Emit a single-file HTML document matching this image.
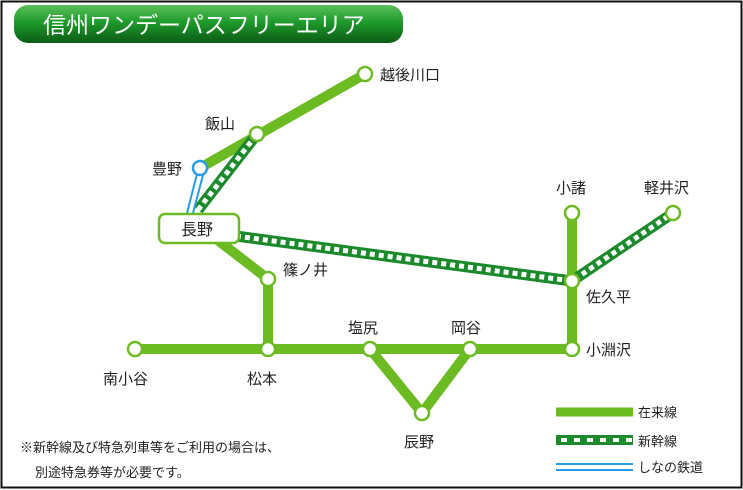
<!DOCTYPE html>
<html><head><meta charset="utf-8"><style>
html,body{margin:0;padding:0;background:#fff}
svg{display:block}
text{font-family:"Liberation Sans","Noto Sans CJK JP",sans-serif;fill:#222}
</style></head><body>
<svg width="743" height="490" viewBox="0 0 743 490" xmlns="http://www.w3.org/2000/svg">
<defs>
<linearGradient id="tb" x1="0" y1="0" x2="0" y2="1">
<stop offset="0" stop-color="#5cc05a"/><stop offset="0.45" stop-color="#1e9a2c"/><stop offset="1" stop-color="#0b5c14"/>
</linearGradient>
</defs>
<rect x="1.5" y="1.5" width="740" height="486" fill="#fff" stroke="#111" stroke-width="2"/>
<rect x="14" y="5" width="389" height="38" rx="14" fill="url(#tb)"/>
<text x="43" y="33" font-size="23" style="fill:#fff">信州ワンデーパスフリーエリア</text>

<g stroke="#6cbb22" stroke-width="10" fill="none" stroke-linecap="butt">
<line x1="200" y1="168" x2="365" y2="74"/>
<polyline points="215,238 268,279 268,349"/>
<line x1="135" y1="349" x2="572" y2="349"/>
<polyline points="370,349 422,413 470,349"/>
<line x1="572" y1="213" x2="572" y2="349"/>
</g>
<g fill="none">
<line x1="198" y1="210" x2="257" y2="134" stroke="#1b8a2a" stroke-width="11"/>
<line x1="198" y1="210" x2="257" y2="134" stroke="#fff" stroke-width="5" stroke-dasharray="5 4"/>
<polyline points="236,236 572,281 673,213" stroke="#1b8a2a" stroke-width="11"/>
<polyline points="236,236 572,281 673,213" stroke="#fff" stroke-width="5" stroke-dasharray="5 4"/>
<line x1="197" y1="174" x2="187" y2="213" stroke="#2a9be8" stroke-width="2"/>
<line x1="203" y1="175" x2="193" y2="213" stroke="#2a9be8" stroke-width="2"/>
</g>
<g fill="#fff" stroke="#6cbb22" stroke-width="2.5">
<circle cx="365" cy="74" r="7"/>
<circle cx="257" cy="134" r="7"/>
<circle cx="268" cy="279" r="7"/>
<circle cx="135" cy="349" r="7"/>
<circle cx="268" cy="349" r="7"/>
<circle cx="370" cy="349" r="7"/>
<circle cx="470" cy="349" r="7"/>
<circle cx="422" cy="413" r="7"/>
<circle cx="572" cy="349" r="7"/>
<circle cx="572" cy="213" r="7"/>
<circle cx="572" cy="281" r="7"/>
<circle cx="673" cy="213" r="7"/>
<circle cx="200" cy="168" r="7" stroke="#2a9be8"/>
<rect x="159" y="214" width="80" height="29" rx="6"/>
</g>
<g font-size="15">
<text x="181" y="235" font-size="16">長野</text>
<text x="380" y="80">越後川口</text>
<text x="205" y="129">飯山</text>
<text x="152" y="174">豊野</text>
<text x="283" y="275">篠ノ井</text>
<text x="103" y="384">南小谷</text>
<text x="247" y="384">松本</text>
<text x="348" y="333">塩尻</text>
<text x="451" y="333">岡谷</text>
<text x="404" y="447">辰野</text>
<text x="586" y="355">小淵沢</text>
<text x="586" y="302">佐久平</text>
<text x="556" y="193">小諸</text>
<text x="644" y="193">軽井沢</text>
<text x="638" y="417" font-size="13">在来線</text>
<text x="638" y="446" font-size="13">新幹線</text>
<text x="638" y="472" font-size="13">しなの鉄道</text>
<text x="20" y="452" font-size="13">※新幹線及び特急列車等をご利用の場合は、</text>
<text x="35" y="477" font-size="13">別途特急券等が必要です。</text>
</g>
<line x1="556" y1="412" x2="633" y2="412" stroke="#6cbb22" stroke-width="9"/>
<line x1="556" y1="440" x2="633" y2="440" stroke="#1b8a2a" stroke-width="10"/>
<line x1="561" y1="440" x2="633" y2="440" stroke="#fff" stroke-width="4" stroke-dasharray="6 7"/>
<line x1="556" y1="464" x2="633" y2="464" stroke="#2a9be8" stroke-width="2"/>
<line x1="556" y1="470" x2="633" y2="470" stroke="#2a9be8" stroke-width="2"/>
</svg>
</body></html>
